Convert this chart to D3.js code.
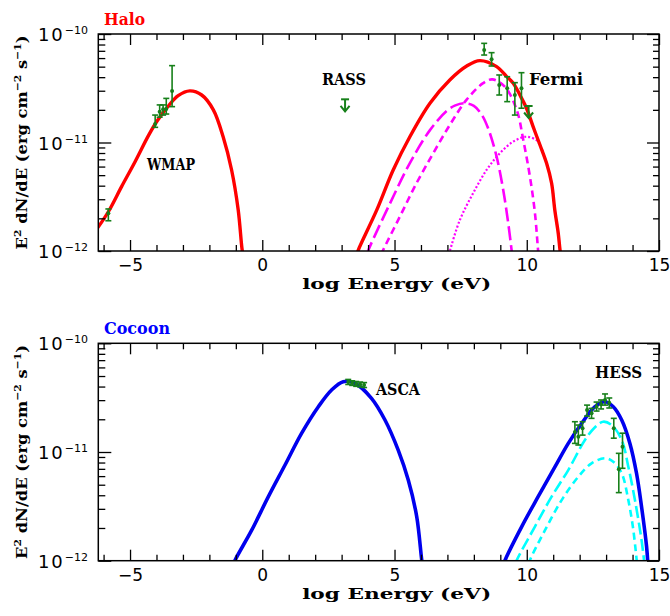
<!DOCTYPE html>
<html>
<head>
<meta charset="utf-8">
<script src="https://cdn.jsdelivr.net/npm/d3@7"></script>
<style>
  html, body { margin: 0; padding: 0; background: #fff; }
  svg { display: block; }
</style>
</head>
<body>
<svg id="chart" width="670" height="616"></svg>
<script>
// ---------------- DATA ----------------
// x: log10 Energy (eV); y: E^2 dN/dE (erg cm^-2 s^-1)
const xTickLabels = [-5, 0, 5, 10, 15];
const yTickLabels = [1e-12, 1e-11, 1e-10];

// Halo panel — synchrotron model (red, left)
const haloSynE = [-6.25, -5.82, -5.32, -4.81, -4.31, -3.99, -3.55, -3.18, -2.74, -2.29, -1.85, -1.48, -1.16, -0.91, -0.76, -0.70];
const haloSynF = [1.6e-12, 2.30e-12, 3.92e-12, 6.65e-12, 1.15e-11, 1.56e-11, 2.17e-11, 2.70e-11, 2.99e-11, 2.74e-11, 2.00e-11, 1.13e-11, 5.58e-12, 2.39e-12, 1.02e-12, 8.5e-13];
// Halo panel — IC total (red, right)
const haloICE = [3.55, 3.63, 4.33, 4.95, 5.58, 6.34, 7.09, 7.73, 8.23, 8.86, 9.24, 9.49, 9.74, 9.99, 10.24, 10.50, 10.75, 10.94, 11.06, 11.19, 11.25, 11.30];
const haloICF = [8.9e-13, 1.02e-12, 2.39e-12, 5.58e-12, 1.13e-11, 2.30e-11, 3.77e-11, 5.07e-11, 5.68e-11, 5.00e-11, 4.05e-11, 3.52e-11, 2.74e-11, 2.07e-11, 1.40e-11, 9.48e-12, 6.43e-12, 4.21e-12, 2.39e-12, 1.46e-12, 1.06e-12, 8.5e-13];
// Halo components (magenta)
const haloLongE = [3.95, 4.00, 4.83, 5.58, 6.34, 6.97, 7.30, 7.65, 8.00, 8.30, 8.55, 8.86, 9.11, 9.30, 9.43, 9.46];
const haloLongF = [9.1e-13, 1.0e-12, 2.75e-12, 6.46e-12, 1.30e-11, 1.95e-11, 2.20e-11, 2.30e-11, 2.18e-11, 1.80e-11, 1.33e-11, 7.40e-12, 3.65e-12, 1.80e-12, 1.0e-12, 8.5e-13];
const haloShortE = [4.50, 4.57, 5.20, 5.83, 6.46, 7.09, 7.72, 8.35, 8.70, 9.17, 9.62, 9.87, 10.12, 10.31, 10.43, 10.46];
const haloShortF = [9.3e-13, 1.02e-12, 2.07e-12, 4.21e-12, 7.94e-12, 1.45e-11, 2.47e-11, 3.52e-11, 3.82e-11, 3.27e-11, 2.00e-11, 1.05e-11, 4.84e-12, 2.23e-12, 1.0e-12, 8.5e-13];
const haloDotE = [7.05, 7.09, 7.47, 7.97, 8.48, 8.98, 9.49, 9.99, 10.37, 10.50, 10.75, 10.94, 11.06, 11.19, 11.25, 11.30];
const haloDotF = [9.3e-13, 1.0e-12, 1.93e-12, 3.40e-12, 5.58e-12, 7.94e-12, 1.02e-11, 1.13e-11, 1.05e-11, 9.48e-12, 6.43e-12, 4.21e-12, 2.39e-12, 1.46e-12, 1.06e-12, 8.5e-13];

// Halo data points
const wmapE  = [-5.82, -4.05, -3.88, -3.75, -3.63, -3.41];
const wmapF  = [2.23e-12, 1.48e-11, 1.92e-11, 2.02e-11, 2.04e-11, 2.99e-11];
const wmapHi = [2.44e-12, 1.79e-11, 2.22e-11, 2.22e-11, 2.55e-11, 5.11e-11];
const wmapLo = [1.90e-12, 1.38e-11, 1.71e-11, 1.79e-11, 1.83e-11, 2.14e-11];
const fermiE  = [8.39, 8.67, 8.96, 9.26, 9.55, 9.80];
const fermiF  = [7.13e-11, 5.85e-11, 3.39e-11, 3.16e-11, 2.74e-11, 3.16e-11];
const fermiHi = [8.20e-11, 6.73e-11, 4.19e-11, 4.04e-11, 3.56e-11, 4.40e-11];
const fermiLo = [6.40e-11, 5.07e-11, 2.74e-11, 2.38e-11, 1.79e-11, 2.07e-11];
const upperLimE = [3.13, 10.07];
const upperLimF = [2.50e-11, 2.17e-11];

// Cocoon panel — synchrotron (blue, left)
const cocSynE = [-1.10, -1.03, -0.40, 0.23, 0.86, 1.49, 2.12, 2.62, 3.06, 3.50, 4.13, 4.64, 5.14, 5.52, 5.84, 6.03, 6.07];
const cocSynF = [9.1e-13, 1.01e-12, 1.91e-12, 3.88e-12, 7.59e-12, 1.49e-11, 2.61e-11, 3.72e-11, 4.44e-11, 4.29e-11, 3.12e-11, 1.97e-11, 1.04e-11, 5.52e-12, 2.54e-12, 1.01e-12, 8.8e-13];
// Cocoon — IC total (blue, right)
const cocICE = [9.12, 9.18, 9.81, 10.43, 11.07, 11.57, 12.08, 12.58, 12.96, 13.27, 13.59, 13.90, 14.15, 14.34, 14.53, 14.58];
const cocICF = [9.1e-13, 1.01e-12, 2.06e-12, 3.88e-12, 7.33e-12, 1.20e-11, 1.84e-11, 2.61e-11, 2.90e-11, 2.61e-11, 1.97e-11, 1.20e-11, 6.37e-12, 3.14e-12, 1.35e-12, 9.3e-13];
// Cocoon components (cyan)
const cocLongE = [9.57, 9.62, 10.31, 10.94, 11.57, 12.20, 12.58, 12.89, 13.21, 13.59, 13.84, 14.09, 14.34, 14.45];
const cocLongF = [9.3e-13, 1.01e-12, 2.06e-12, 3.88e-12, 6.82e-12, 1.29e-11, 1.69e-11, 1.90e-11, 1.77e-11, 1.29e-11, 7.33e-12, 3.61e-12, 1.55e-12, 9.3e-13];
const cocShortE = [10.08, 10.12, 10.69, 11.32, 11.95, 12.45, 12.96, 13.27, 13.59, 13.84, 14.03, 14.17];
const cocShortF = [9.3e-13, 1.01e-12, 1.91e-12, 3.61e-12, 5.93e-12, 7.87e-12, 8.75e-12, 8.15e-12, 6.37e-12, 3.61e-12, 1.91e-12, 9.3e-13];

// Cocoon data points
const ascaE  = [3.25, 3.40, 3.55, 3.70, 3.85];
const ascaF  = [4.41e-11, 4.31e-11, 4.23e-11, 4.18e-11, 4.13e-11];
const ascaHi = [4.65e-11, 4.52e-11, 4.45e-11, 4.40e-11, 4.35e-11];
const ascaLo = [4.18e-11, 4.10e-11, 4.02e-11, 3.97e-11, 3.92e-11];
const hessE  = [11.82, 11.95, 12.11, 12.28, 12.45, 12.64, 12.81, 12.96, 13.12, 13.29, 13.48, 13.62];
const hessF  = [1.53e-11, 1.38e-11, 1.65e-11, 2.43e-11, 2.27e-11, 2.61e-11, 2.75e-11, 3.01e-11, 2.84e-11, 1.65e-11, 6.93e-12, 1.12e-11];
const hessHi = [1.90e-11, 1.77e-11, 1.90e-11, 2.70e-11, 2.52e-11, 2.88e-11, 3.01e-11, 3.42e-11, 3.14e-11, 2.04e-11, 9.72e-12, 1.49e-11];
const hessLo = [1.20e-11, 1.16e-11, 1.43e-11, 2.14e-11, 2.04e-11, 2.38e-11, 2.49e-11, 2.70e-11, 2.54e-11, 1.34e-11, 4.23e-12, 7.08e-12];

// ---------------- DRAWING ----------------
const svg = d3.select("#chart");
const LEFT = 98.3, RIGHT = 659;
const GREEN = "#17801a";
const numFont = "'DejaVu Sans', sans-serif";
const serifBold = "'DejaVu Serif', serif";

const x = d3.scaleLinear().domain([-6.2, 15]).range([LEFT, RIGHT]);

const zip = (a, b) => a.map((v, i) => [v, b[i]]);

function drawPanel(top, bottom, id, cfg) {
  const y = d3.scaleLog().domain([1e-12, 1e-10]).range([bottom, top]);
  const g = svg.append("g");

  g.append("clipPath").attr("id", id).append("rect")
    .attr("x", LEFT).attr("y", top).attr("width", RIGHT - LEFT).attr("height", bottom - top);

  const plot = g.append("g").attr("clip-path", `url(#${id})`);
  const line = d3.line().x(d => x(d[0])).y(d => y(d[1])).curve(d3.curveCatmullRom.alpha(0.5));

  cfg.curves.forEach(c => {
    plot.append("path").datum(zip(c.e, c.f))
      .attr("d", line).attr("fill", "none")
      .attr("stroke", c.color).attr("stroke-width", c.width)
      .attr("stroke-dasharray", c.dash || null)
      .attr("stroke-linecap", c.cap || "butt")
      .attr("stroke-linejoin", "round");
  });

  // error bar data
  cfg.points.forEach(p => {
    const pts = p.e.map((e, i) => ({ e, f: p.f[i], hi: p.hi[i], lo: p.lo[i] }));
    const pg = g.append("g").attr("stroke", GREEN).attr("fill", GREEN).attr("stroke-width", 1.6);
    pts.forEach(d => {
      const cx = x(d.e);
      pg.append("line").attr("x1", cx).attr("x2", cx).attr("y1", y(d.lo)).attr("y2", y(d.hi));
      pg.append("line").attr("x1", cx - 3).attr("x2", cx + 3).attr("y1", y(d.lo)).attr("y2", y(d.lo));
      pg.append("line").attr("x1", cx - 3).attr("x2", cx + 3).attr("y1", y(d.hi)).attr("y2", y(d.hi));
      pg.append("circle").attr("cx", cx).attr("cy", y(d.f)).attr("r", 2).attr("stroke", "none");
    });
  });

  // upper limits
  if (cfg.limits) {
    const ug = g.append("g").attr("stroke", GREEN).attr("stroke-width", 2).attr("fill", "none");
    cfg.limits.e.forEach((e, i) => {
      const cx = x(e), cy = y(cfg.limits.f[i]);
      ug.append("line").attr("x1", cx - 4).attr("x2", cx + 4).attr("y1", cy).attr("y2", cy);
      ug.append("line").attr("x1", cx).attr("x2", cx).attr("y1", cy).attr("y2", cy + 12);
      ug.append("path").attr("d", `M${cx - 4.5},${cy + 6.5}L${cx},${cy + 12}L${cx + 4.5},${cy + 6.5}`);
    });
  }

  // axes (inward ticks)
  const majorX = xTickLabels;
  const minorX = d3.range(-6, 16).filter(v => v % 5 !== 0);
  const majorY = yTickLabels;
  const minorY = [];
  [1e-12, 1e-11].forEach(dec => { for (let k = 2; k <= 9; k++) minorY.push(k * dec); });

  const styleAxis = sel => {
    sel.select(".domain").remove();
    sel.selectAll(".tick line").attr("stroke", "#000").attr("stroke-width", 1.3);
  };

  g.append("g").attr("transform", `translate(0,${bottom})`)
    .call(d3.axisBottom(x).tickValues(majorX).tickSizeInner(-11).tickSizeOuter(0).tickPadding(8)
      .tickFormat(d => d < 0 ? "\u2212" + (-d) : String(d)))
    .call(styleAxis)
    .call(s => s.selectAll("text").attr("font-family", numFont).attr("font-size", 17).attr("fill", "#000"));
  g.append("g").attr("transform", `translate(0,${bottom})`)
    .call(d3.axisBottom(x).tickValues(minorX).tickSizeInner(-6).tickSizeOuter(0).tickFormat(""))
    .call(styleAxis);
  g.append("g").attr("transform", `translate(0,${top})`)
    .call(d3.axisTop(x).tickValues(majorX).tickSizeInner(-11).tickSizeOuter(0).tickFormat(""))
    .call(styleAxis);
  g.append("g").attr("transform", `translate(0,${top})`)
    .call(d3.axisTop(x).tickValues(minorX).tickSizeInner(-6).tickSizeOuter(0).tickFormat(""))
    .call(styleAxis);

  g.append("g").attr("transform", `translate(${LEFT},0)`)
    .call(d3.axisLeft(y).tickValues(majorY).tickSizeInner(-13).tickSizeOuter(0).tickFormat(""))
    .call(styleAxis);
  g.append("g").attr("transform", `translate(${LEFT},0)`)
    .call(d3.axisLeft(y).tickValues(minorY).tickSizeInner(-7).tickSizeOuter(0).tickFormat(""))
    .call(styleAxis);
  g.append("g").attr("transform", `translate(${RIGHT},0)`)
    .call(d3.axisRight(y).tickValues(majorY).tickSizeInner(-12).tickSizeOuter(0).tickFormat(""))
    .call(styleAxis);
  g.append("g").attr("transform", `translate(${RIGHT},0)`)
    .call(d3.axisRight(y).tickValues(minorY).tickSizeInner(-6).tickSizeOuter(0).tickFormat(""))
    .call(styleAxis);

  // y tick labels 10^n
  majorY.forEach(v => {
    const t = g.append("text").attr("x", 88).attr("y", y(v) + 7)
      .attr("text-anchor", "end").attr("font-family", numFont).attr("fill", "#000");
    t.append("tspan").attr("font-size", 18).attr("letter-spacing", 2).text("10");
    t.append("tspan").attr("font-size", 11).attr("dy", -7)
      .text("\u2212" + Math.round(-Math.log10(v)));
  });

  // frame
  g.append("rect").attr("x", LEFT).attr("y", top).attr("width", RIGHT - LEFT).attr("height", bottom - top)
    .attr("fill", "none").attr("stroke", "#000").attr("stroke-width", 1.5);

  // axis titles
  g.append("text").attr("x", (LEFT + RIGHT) / 2 + 18).attr("y", bottom + 38)
    .attr("text-anchor", "middle").attr("font-family", serifBold).attr("font-weight", "bold")
    .attr("font-size", 15).attr("textLength", 189).attr("lengthAdjust", "spacingAndGlyphs")
    .text("log Energy (eV)");

  const yt = g.append("text")
    .attr("transform", `translate(27,${(top + bottom) / 2}) rotate(-90)`)
    .attr("text-anchor", "middle").attr("font-family", serifBold).attr("font-weight", "bold")
    .attr("font-size", 15).attr("textLength", 214).attr("lengthAdjust", "spacingAndGlyphs");
  yt.append("tspan").text("E");
  yt.append("tspan").attr("font-size", 10).attr("dy", -6).text("2");
  yt.append("tspan").attr("dy", 6).text(" dN/dE (erg cm");
  yt.append("tspan").attr("font-size", 10).attr("dy", -6).text("\u22122");
  yt.append("tspan").attr("dy", 6).text(" s");
  yt.append("tspan").attr("font-size", 10).attr("dy", -6).text("\u22121");
  yt.append("tspan").attr("dy", 6).text(")");

  // panel title
  g.append("text").attr("x", 104).attr("y", top - 9)
    .attr("font-family", serifBold).attr("font-weight", "bold").attr("font-size", 16)
    .attr("fill", cfg.titleColor).attr("textLength", cfg.titleLen).attr("lengthAdjust", "spacingAndGlyphs")
    .text(cfg.title);

  // annotations
  cfg.labels.forEach(l => {
    g.append("text").attr("x", l.x).attr("y", l.y)
      .attr("font-family", serifBold).attr("font-weight", "bold").attr("font-size", 16)
      .attr("textLength", l.w).attr("lengthAdjust", "spacingAndGlyphs").text(l.t);
  });
}

drawPanel(34, 251, "clipTop", {
  title: "Halo", titleColor: "#ff0000", titleLen: 41,
  curves: [
    { e: haloLongE, f: haloLongF, color: "#ff00ff", width: 2.6, dash: "14,5" },
    { e: haloShortE, f: haloShortF, color: "#ff00ff", width: 2.6, dash: "7,4.5" },
    { e: haloDotE, f: haloDotF, color: "#ff00ff", width: 2.2, dash: "2,2" },
    { e: haloSynE, f: haloSynF, color: "#ff0000", width: 3.4 },
    { e: haloICE, f: haloICF, color: "#ff0000", width: 3.4 }
  ],
  points: [
    { e: wmapE, f: wmapF, hi: wmapHi, lo: wmapLo },
    { e: fermiE, f: fermiF, hi: fermiHi, lo: fermiLo }
  ],
  limits: { e: upperLimE, f: upperLimF },
  labels: [
    { t: "WMAP", x: 147, y: 170, w: 48 },
    { t: "RASS", x: 322, y: 85, w: 44 },
    { t: "Fermi", x: 529, y: 85, w: 54 }
  ]
});

drawPanel(343.3, 560.7, "clipBot", {
  title: "Cocoon", titleColor: "#0000ff", titleLen: 66,
  curves: [
    { e: cocLongE, f: cocLongF, color: "#00ffff", width: 2.6, dash: "12,4.5" },
    { e: cocShortE, f: cocShortF, color: "#00ffff", width: 2.6, dash: "7,4.5" },
    { e: cocSynE, f: cocSynF, color: "#0000ee", width: 3.6 },
    { e: cocICE, f: cocICF, color: "#0000ee", width: 3.6 }
  ],
  points: [
    { e: ascaE, f: ascaF, hi: ascaHi, lo: ascaLo },
    { e: hessE, f: hessF, hi: hessHi, lo: hessLo }
  ],
  labels: [
    { t: "ASCA", x: 376, y: 395, w: 44 },
    { t: "HESS", x: 595, y: 378, w: 47 }
  ]
});
</script>
</body>
</html>
